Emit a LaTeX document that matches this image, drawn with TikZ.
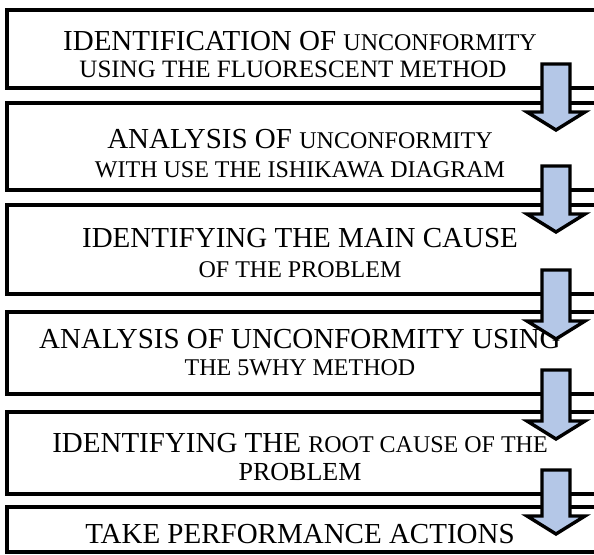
\documentclass[tikz,border=0pt]{standalone}
\usepackage{fontspec}
\setmainfont{Liberation Serif}
\usetikzlibrary{calc}

% text sizes used in the steps
\newcommand\lgsz{\fontsize{29}{34}\selectfont}
\newcommand\smsz{\fontsize{24}{28}\selectfont}

\definecolor{arrowfill}{RGB}{180,199,231}

\tikzset{
  stepbox/.style={draw=black, line width=3.4pt, rectangle, outer sep=0pt, inner sep=0pt},
  steptext/.style={anchor=base, inner sep=0pt, text=black},
  flowarrow/.style={draw=black, fill=arrowfill, line width=3.4pt, line join=miter, miter limit=10},
}

% block arrow from the lower edge of one step into the next one
\newcommand\blockarrow[2]{%
  \draw[flowarrow] let \p1=(#1.south), \p2=(#2.north) in
    (542pt,\y1+24pt) -- (570pt,\y1+24pt) -- (570pt,\y2-9pt) -- (585pt,\y2-9pt)
    -- (556pt,\y2-27pt) -- (527pt,\y2-9pt) -- (542pt,\y2-9pt) -- cycle;}

\begin{document}
\begin{tikzpicture}[x=1pt, y=-1pt]
  \useasboundingbox (0,0) rectangle (594,554);

  % step frames (they run on past the right edge)
  \node[stepbox, minimum width=596pt, minimum height=78pt, anchor=north west] (b1) at (7,10) {};
  \node[stepbox, minimum width=596pt, minimum height=87pt, anchor=north west] (b2) at (7,103) {};
  \node[stepbox, minimum width=596pt, minimum height=89pt, anchor=north west] (b3) at (7,205) {};
  \node[stepbox, minimum width=596pt, minimum height=82pt, anchor=north west] (b4) at (7,312) {};
  \node[stepbox, minimum width=596pt, minimum height=82pt, anchor=north west] (b5) at (7,412) {};
  \node[stepbox, minimum width=596pt, minimum height=45pt, anchor=north west] (b6) at (7,507) {};

  % step texts
  \node[steptext] (t1a) at (300,50)  {\lgsz IDENTIFICATION OF {\smsz UNCONFORMITY}};
  \node[steptext] (t1b) at (293,77)  {\fontsize{25}{29}\selectfont USING THE FLUORESCENT METHOD};
  \node[steptext] (t2a) at (300,148) {\lgsz ANALYSIS OF {\smsz UNCONFORMITY}};
  \node[steptext] (t2b) at (300,177) {\smsz WITH USE THE ISHIKAWA DIAGRAM};
  \node[steptext] (t3a) at (300,247) {\lgsz IDENTIFYING THE MAIN CAUSE};
  \node[steptext] (t3b) at (300,277) {\smsz OF THE PROBLEM};
  \node[steptext] (t4a) at (300,348) {\lgsz ANALYSIS OF UNCONFORMITY USING};
  \node[steptext] (t4b) at (300,375) {\smsz THE 5WHY METHOD};
  \node[steptext] (t5a) at (300,452) {\lgsz IDENTIFYING THE {\smsz ROOT CAUSE OF THE}};
  \node[steptext] (t5b) at (300,480) {\fontsize{26}{30}\selectfont PROBLEM};
  \node[steptext] (t6a) at (300,543) {\lgsz TAKE PERFORMANCE ACTIONS};

  % arrows between the steps, drawn over the frames
  \blockarrow{b1}{b2}
  \blockarrow{b2}{b3}
  \blockarrow{b3}{b4}
  \blockarrow{b4}{b5}
  \blockarrow{b5}{b6}
\end{tikzpicture}
\end{document}
